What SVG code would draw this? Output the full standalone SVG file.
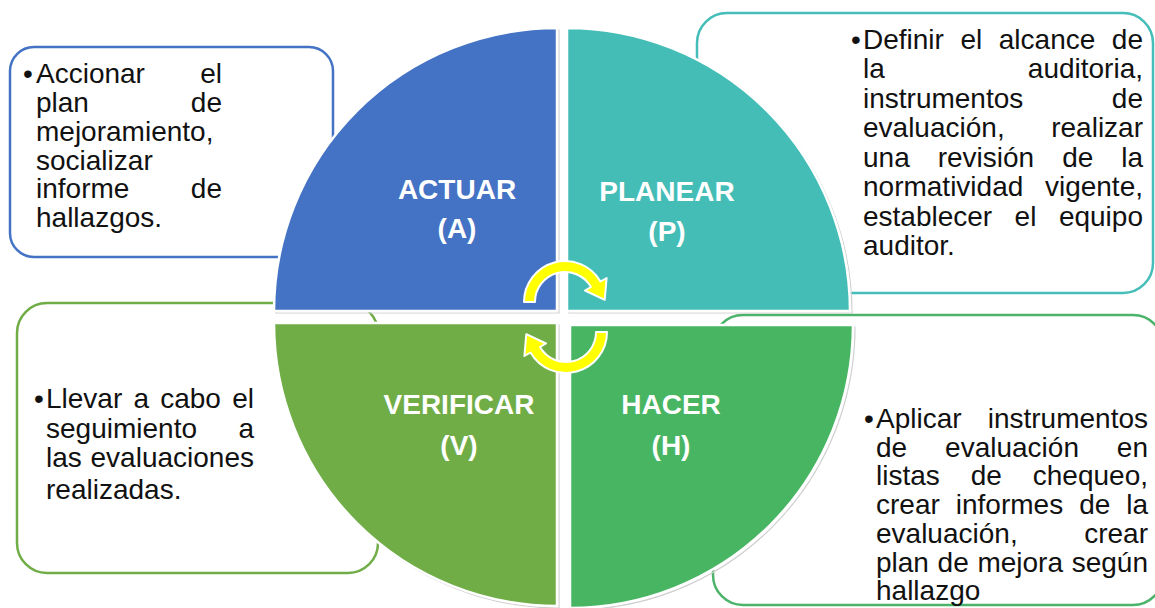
<svg xmlns="http://www.w3.org/2000/svg" width="1155" height="608" viewBox="0 0 1155 608">
<style>
.box{fill:#fff;stroke-width:2.5}
.t{font-family:"Liberation Sans",Arial,sans-serif;font-size:28px;fill:#111}
.e{text-anchor:end}
.lbl{font-family:"Liberation Sans",Arial,sans-serif;font-size:28px;font-weight:bold;fill:#fff;text-anchor:middle}
.q{stroke:#fff;stroke-width:2.5}
.sh{fill:none;stroke:#cfcfcf;stroke-width:1.2}
.arr{fill:#ffff00;stroke:#fff;stroke-width:2;stroke-linejoin:round}
</style>
<rect width="1155" height="608" fill="#fff"/>

<g id="box-actuar">
<rect class="box" x="10" y="47" width="323" height="210" rx="24" stroke="#4472C4"/>
<text class="t" x="23" y="83">•</text>
<text class="t" x="36" y="83">Accionar</text><text class="t e" x="222" y="83">el</text>
<text class="t" x="36" y="112">plan</text><text class="t e" x="222" y="112">de</text>
<text class="t" x="36" y="140.5">mejoramiento,</text>
<text class="t" x="36" y="169.5">socializar</text>
<text class="t" x="36" y="198">informe</text><text class="t e" x="222" y="198">de</text>
<text class="t" x="36" y="227">hallazgos.</text>
</g>

<g id="box-planear">
<rect class="box" x="697" y="13" width="456" height="280" rx="30" stroke="#45BDB8"/>
<text class="t" x="851" y="49">•</text>
<text class="t" x="863" y="49">Definir</text><text class="t" x="960.5" y="49">el</text><text class="t" x="998.8" y="49">alcance</text><text class="t e" x="1143" y="49">de</text>
<text class="t" x="863" y="78.4">la</text><text class="t e" x="1143" y="78.4">auditoria,</text>
<text class="t" x="863" y="107.9">instrumentos</text><text class="t e" x="1143" y="107.9">de</text>
<text class="t" x="863" y="137.3">evaluación,</text><text class="t e" x="1143" y="137.3">realizar</text>
<text class="t" x="863" y="166.7">una</text><text class="t" x="937.7" y="166.7">revisión</text><text class="t" x="1062.2" y="166.7">de</text><text class="t e" x="1143" y="166.7">la</text>
<text class="t" x="863" y="196.1">normatividad</text><text class="t e" x="1143" y="196.1">vigente,</text>
<text class="t" x="863" y="225.6">establecer</text><text class="t" x="1014.6" y="225.6">el</text><text class="t e" x="1143" y="225.6">equipo</text>
<text class="t" x="863" y="255">auditor.</text>
</g>

<g id="box-verificar">
<rect class="box" x="17" y="303" width="361" height="270" rx="30" stroke="#70AD47"/>
<text class="t" x="34" y="408">•</text>
<text class="t" x="46" y="408">Llevar</text><text class="t" x="133.4" y="408">a</text><text class="t" x="160.2" y="408">cabo</text><text class="t e" x="254" y="408">el</text>
<text class="t" x="46" y="438">seguimiento</text><text class="t e" x="254" y="438">a</text>
<text class="t" x="46" y="467">las</text><text class="t e" x="254" y="467">evaluaciones</text>
<text class="t" x="46" y="499">realizadas.</text>
</g>

<g id="box-hacer">
<rect class="box" x="713" y="315" width="450" height="290" rx="30" stroke="#4CB46A"/>
<text class="t" x="864" y="428">•</text>
<text class="t" x="876" y="428">Aplicar</text><text class="t e" x="1148" y="428">instrumentos</text>
<text class="t" x="876" y="456.7">de</text><text class="t" x="945.1" y="456.7">evaluación</text><text class="t e" x="1148" y="456.7">en</text>
<text class="t" x="876" y="485.4">listas</text><text class="t" x="970.8" y="485.4">de</text><text class="t e" x="1148" y="485.4">chequeo,</text>
<text class="t" x="876" y="514.1">crear</text><text class="t" x="955.8" y="514.1">informes</text><text class="t" x="1079.2" y="514.1">de</text><text class="t e" x="1148" y="514.1">la</text>
<text class="t" x="876" y="542.8">evaluación,</text><text class="t e" x="1148" y="542.8">crear</text>
<text class="t" x="876" y="571.5">plan</text><text class="t" x="937.6" y="571.5">de</text><text class="t" x="977.4" y="571.5">mejora</text><text class="t e" x="1148" y="571.5">según</text>
<text class="t" x="876" y="600.2">hallazgo</text>
</g>

<g id="quadrant-actuar">
<path class="sh" d="M559,313 L276,313 A283,283 0 0 1 559,30 Z"/>
<path class="q" fill="#4472C4" d="M557,311 L274,311 A283,283 0 0 1 557,28 Z"/>
<text class="lbl" x="457" y="199">ACTUAR</text>
<text class="lbl" x="457" y="238">(A)</text>
</g>

<g id="quadrant-planear">
<path class="sh" d="M569,313 L569,30 A283,283 0 0 1 852,313 Z"/>
<path class="q" fill="#44BDB7" d="M567,311 L567,28 A283,283 0 0 1 850,311 Z"/>
<text class="lbl" x="667" y="201">PLANEAR</text>
<text class="lbl" x="667" y="241">(P)</text>
</g>

<g id="quadrant-verificar">
<path class="sh" d="M559,325 L559,608 A283,283 0 0 1 276,325 Z"/>
<path class="q" fill="#70AD47" d="M557,323 L557,606 A283,283 0 0 1 274,323 Z"/>
<text class="lbl" x="459" y="414">VERIFICAR</text>
<text class="lbl" x="459" y="455">(V)</text>
</g>

<g id="quadrant-hacer">
<path class="sh" d="M572,327 L855,327 A283,283 0 0 1 572,610 Z"/>
<path class="q" fill="#48B563" d="M570,325 L853,325 A283,283 0 0 1 570,608 Z"/>
<text class="lbl" x="671" y="414">HACER</text>
<text class="lbl" x="671" y="455">(H)</text>
</g>

<g id="connectors">
<path id="arrow-top" class="arr" d="M524,302 A41,41 0 0 1 600.5,281.5 L606.6,278 L604.7,299.8 L585,290.5 L591,287 A30,30 0 0 0 535,302 Z"/>
<path id="arrow-bottom" class="arr" transform="rotate(180 565.5 317)" d="M524,302 A41,41 0 0 1 600.5,281.5 L606.6,278 L604.7,299.8 L585,290.5 L591,287 A30,30 0 0 0 535,302 Z"/>
</g>
</svg>
